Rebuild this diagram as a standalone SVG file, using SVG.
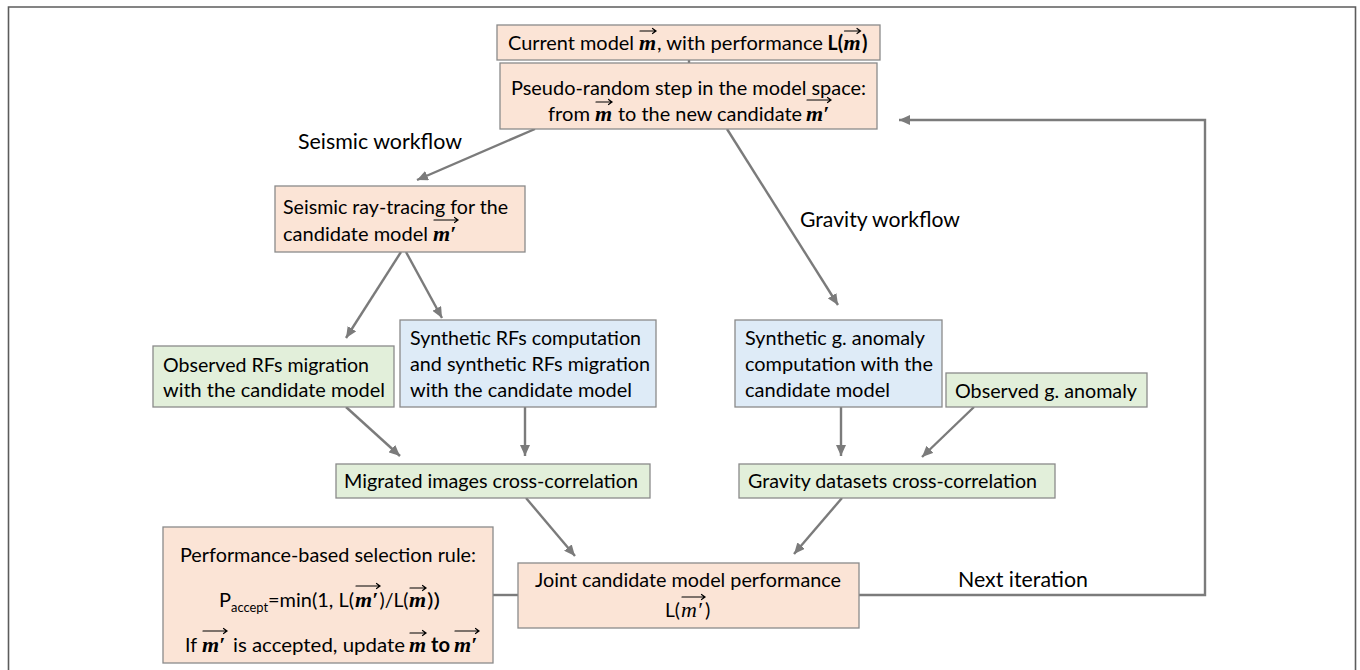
<svg xmlns="http://www.w3.org/2000/svg" width="1360" height="670" viewBox="0 0 1360 670">
<style>
.t{font-family:Lato,"Open Sans","DejaVu Sans",sans-serif;font-size:20px;fill:#000}
.lbl{font-family:Lato,"Open Sans","DejaVu Sans",sans-serif;font-size:21.5px;fill:#000}
.b{font-weight:bold}
.m{font-family:"Liberation Serif","DejaVu Serif",serif;font-size:22px;font-style:italic;font-weight:bold;fill:#000}
.mi{font-family:"Liberation Serif","DejaVu Serif",serif;font-size:22px;font-style:italic;fill:#000}
.sub{font-family:Lato,"Open Sans",sans-serif;font-size:14px;fill:#000}
.vec{stroke:#000;stroke-width:1.2;fill:none;stroke-linecap:round}
.or{fill:#fbe4d6;stroke:#8a8a8a;stroke-width:1.3}
.gr{fill:#e2efda;stroke:#8a8a8a;stroke-width:1.3}
.bl{fill:#deebf7;stroke:#8a8a8a;stroke-width:1.3}
.c{stroke:#7b7b7b;stroke-width:2.4;fill:none}
.ca{stroke:#7b7b7b;stroke-width:2.4;fill:none;marker-end:url(#ah)}
</style>
<defs>
<marker id="ah" markerUnits="userSpaceOnUse" markerWidth="12" markerHeight="10" refX="11" refY="5" orient="auto">
<path d="M0,0 L11,5 L0,10 Z" fill="#7b7b7b"/>
</marker>
</defs>
<rect x="0" y="0" width="1360" height="670" fill="#fff"/>
<path d="M8.5,672 V7 H1355.5 V672" fill="none" stroke="#5c5c5c" stroke-width="1.6"/>

<g id="connectors">
<path class="c" d="M689,60 V63"/>
<path class="ca" d="M535,129 L417,180"/>
<path class="ca" d="M727,129 L838,305"/>
<path class="ca" d="M401,252 L346,338"/>
<path class="ca" d="M406,252 L442,318"/>
<path class="ca" d="M346,407 L400,456"/>
<path class="ca" d="M525,407 V456"/>
<path class="ca" d="M526,498 L575,556"/>
<path class="ca" d="M841,407 V456"/>
<path class="ca" d="M974,407 L922,457"/>
<path class="ca" d="M842,498 L794,554"/>
<path class="c" d="M493,595 H518"/>
<path class="ca" d="M859,595 H1205 V120 H899"/>
</g>

<g id="labels">
<text class="lbl" x="298" y="149" textLength="164" lengthAdjust="spacingAndGlyphs">Seismic workflow</text>
<text class="lbl" x="800" y="227" textLength="160" lengthAdjust="spacingAndGlyphs">Gravity workflow</text>
<text class="lbl" x="958" y="587" textLength="130" lengthAdjust="spacingAndGlyphs">Next iteration</text>
</g>

<g id="current-model">
<rect class="or" x="497" y="25" width="383" height="35"/>
<text class="t" x="508" y="50" textLength="126" lengthAdjust="spacingAndGlyphs">Current model</text>
<text class="m" x="639" y="50">m</text>
<path class="vec" d="M640,31 H656 M652.5,28.5 L656,31 L652.5,33.5"/>
<text class="t" x="657" y="50" textLength="166" lengthAdjust="spacingAndGlyphs">, with performance</text>
<text class="t b" x="827.6" y="50" textLength="15.5" lengthAdjust="spacingAndGlyphs">L(</text>
<text class="m" x="843.5" y="50">m</text>
<path class="vec" d="M844.5,31 H860.5 M857,28.5 L860.5,31 L857,33.5"/>
<text class="t b" x="862" y="50">)</text>
</g>

<g id="pseudo-random-step">
<rect class="or" x="500" y="63" width="377" height="66"/>
<text class="t" x="511" y="95" textLength="355" lengthAdjust="spacingAndGlyphs">Pseudo-random step in the model space:</text>
<text class="t" x="548" y="121" textLength="42" lengthAdjust="spacingAndGlyphs">from</text>
<text class="m" x="595" y="121">m</text>
<path class="vec" d="M596,102 H612 M608.5,99.5 L612,102 L608.5,104.5"/>
<text class="t" x="618" y="121" textLength="184" lengthAdjust="spacingAndGlyphs">to the new candidate</text>
<text class="m" x="806" y="121">m′</text>
<path class="vec" d="M807,100 H831 M827.5,97.5 L831,100 L827.5,102.5"/>
</g>

<g id="ray-tracing">
<rect class="or" x="275" y="186" width="250" height="66"/>
<text class="t" x="283" y="214" textLength="225" lengthAdjust="spacingAndGlyphs">Seismic ray-tracing for the</text>
<text class="t" x="283" y="241" textLength="145" lengthAdjust="spacingAndGlyphs">candidate model</text>
<text class="m" x="433" y="241">m′</text>
<path class="vec" d="M434,220 H458 M454.5,217.5 L458,220 L454.5,222.5"/>
</g>

<g id="observed-rfs">
<rect class="gr" x="153" y="346" width="241" height="61"/>
<text class="t" x="163" y="372" textLength="206" lengthAdjust="spacingAndGlyphs">Observed RFs migration</text>
<text class="t" x="163" y="397" textLength="222" lengthAdjust="spacingAndGlyphs">with the candidate model</text>
</g>

<g id="synthetic-rfs">
<rect class="bl" x="400" y="320" width="256" height="87"/>
<text class="t" x="410" y="345" textLength="231" lengthAdjust="spacingAndGlyphs">Synthetic RFs computation</text>
<text class="t" x="410" y="371" textLength="240" lengthAdjust="spacingAndGlyphs">and synthetic RFs migration</text>
<text class="t" x="410" y="397" textLength="222" lengthAdjust="spacingAndGlyphs">with the candidate model</text>
</g>

<g id="synthetic-g">
<rect class="bl" x="735" y="320" width="207" height="87"/>
<text class="t" x="745" y="345" textLength="180" lengthAdjust="spacingAndGlyphs">Synthetic g. anomaly</text>
<text class="t" x="745" y="371" textLength="188" lengthAdjust="spacingAndGlyphs">computation with the</text>
<text class="t" x="745" y="397" textLength="145" lengthAdjust="spacingAndGlyphs">candidate model</text>
</g>

<g id="observed-g">
<rect class="gr" x="946" y="373" width="201" height="34"/>
<text class="t" x="955" y="398" textLength="182" lengthAdjust="spacingAndGlyphs">Observed g. anomaly</text>
</g>

<g id="migrated-xcorr">
<rect class="gr" x="336" y="464" width="314" height="34"/>
<text class="t" x="344" y="488" textLength="294" lengthAdjust="spacingAndGlyphs">Migrated images cross-correlation</text>
</g>

<g id="gravity-xcorr">
<rect class="gr" x="739" y="464" width="316" height="34"/>
<text class="t" x="748" y="488" textLength="289" lengthAdjust="spacingAndGlyphs">Gravity datasets cross-correlation</text>
</g>

<g id="selection-rule">
<rect class="or" x="163" y="527" width="330" height="136"/>
<text class="t" x="180" y="562" textLength="296" lengthAdjust="spacingAndGlyphs">Performance-based selection rule:</text>
<text class="t" x="219" y="607">P</text>
<text class="sub" x="231" y="612" textLength="37" lengthAdjust="spacingAndGlyphs">accept</text>
<text class="t" x="268" y="607" textLength="86" lengthAdjust="spacingAndGlyphs">=min(1, L(</text>
<text class="m" x="355" y="607">m′</text>
<path class="vec" d="M356,586 H380 M376.5,583.5 L380,586 L376.5,588.5"/>
<text class="t" x="379.5" y="607" textLength="29" lengthAdjust="spacingAndGlyphs">)/L(</text>
<text class="m" x="409" y="607">m</text>
<path class="vec" d="M410,588 H426 M422.5,585.5 L426,588 L422.5,590.5"/>
<text class="t" x="427" y="607" textLength="13" lengthAdjust="spacingAndGlyphs">))</text>
<text class="t" x="185" y="652" textLength="12" lengthAdjust="spacingAndGlyphs">If</text>
<text class="m" x="202" y="652">m′</text>
<path class="vec" d="M203,631 H227 M223.5,628.5 L227,631 L223.5,633.5"/>
<text class="t" x="233" y="652" textLength="172" lengthAdjust="spacingAndGlyphs">is accepted, update</text>
<text class="m" x="409" y="652">m</text>
<path class="vec" d="M410,633 H426 M422.5,630.5 L426,633 L422.5,635.5"/>
<text class="t b" x="431" y="652" textLength="19" lengthAdjust="spacingAndGlyphs">to</text>
<text class="m" x="454" y="652">m′</text>
<path class="vec" d="M455,631 H479 M475.5,628.5 L479,631 L475.5,633.5"/>
</g>

<g id="joint-performance">
<rect class="or" x="518" y="563" width="341" height="65"/>
<text class="t" x="535" y="587" textLength="306" lengthAdjust="spacingAndGlyphs">Joint candidate model performance</text>
<text class="t" x="665" y="617" textLength="15" lengthAdjust="spacingAndGlyphs">L(</text>
<text class="mi" x="681" y="617">m′</text>
<path class="vec" d="M682,597 H705 M701.5,594.5 L705,597 L701.5,599.5"/>
<text class="t" x="705" y="617">)</text>
</g>
</svg>
